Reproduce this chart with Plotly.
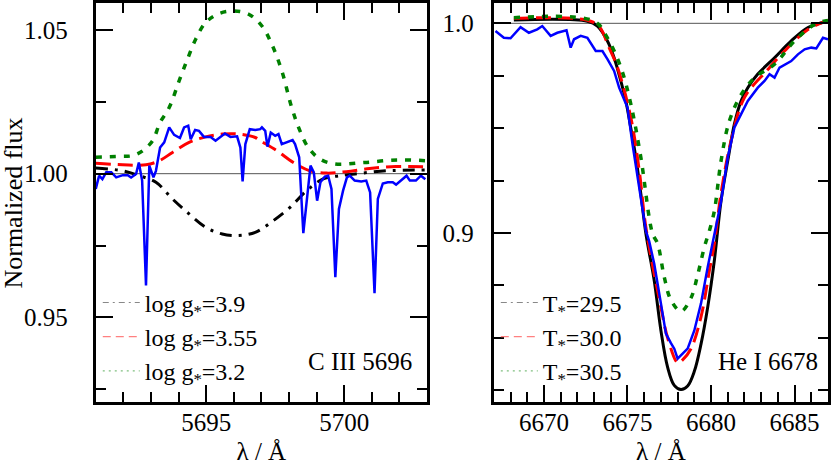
import plotly.graph_objects as go
from plotly.subplots import make_subplots

# C III 5696 panel (left)
c3_obs_wl = [5691.00, 5691.12, 5691.24, 5691.38, 5691.56, 5691.74, 5691.98, 5692.16, 5692.28, 5692.46,
             5692.56, 5692.68, 5692.82, 5692.94, 5693.09, 5693.18, 5693.33, 5693.48, 5693.66, 5693.84,
             5694.05, 5694.20, 5694.35, 5694.44, 5694.60, 5694.74, 5694.92, 5695.16, 5695.34, 5695.52,
             5695.68, 5695.88, 5696.12, 5696.24, 5696.32, 5696.42, 5696.58, 5696.78, 5696.96, 5697.02,
             5697.14, 5697.22, 5697.34, 5697.50, 5697.62, 5697.74, 5697.92, 5698.13, 5698.22, 5698.37,
             5698.52, 5698.66, 5698.78, 5698.90, 5699.02, 5699.14, 5699.30, 5699.42, 5699.54, 5699.68,
             5699.81, 5699.96, 5700.10, 5700.20, 5700.38, 5700.62, 5700.80, 5700.94, 5701.10, 5701.22,
             5701.40, 5701.58, 5701.76, 5701.88, 5702.09, 5702.26, 5702.38, 5702.60, 5702.78, 5702.94]
c3_obs_flux = [0.9947, 0.9993, 0.9981, 1.0005, 1.0005, 0.9987, 0.9995, 0.9995, 0.9987, 0.9999,
               1.0039, 0.9976, 0.9611, 1.0028, 0.9987, 1.0010, 1.0091, 1.0109, 1.0161, 1.0135,
               1.0124, 1.0161, 1.0167, 1.0120, 1.0152, 1.0149, 1.0128, 1.0128, 1.0115, 1.0128,
               1.0140, 1.0128, 1.0130, 1.0091, 0.9973, 1.0103, 1.0155, 1.0152, 1.0155, 1.0161,
               1.0149, 1.0094, 1.0143, 1.0132, 1.0138, 1.0103, 1.0109, 1.0117, 1.0103, 1.0057,
               0.9793, 0.9918, 1.0028, 1.0005, 0.9906, 0.9970, 0.9990, 0.9993, 0.9947, 0.9640,
               0.9877, 0.9941, 0.9987, 0.9993, 0.9976, 0.9973, 0.9976, 0.9935, 0.9584, 0.9912,
               0.9966, 0.9970, 0.9970, 0.9962, 0.9980, 0.9993, 0.9976, 0.9976, 0.9993, 0.9981]

c3_g39_wl = [5691.0, 5691.98, 5692.58, 5693.18, 5693.78, 5694.38, 5694.98, 5695.58, 5696.18,
             5696.78, 5697.44, 5698.04, 5698.64, 5699.24, 5699.84, 5700.56, 5701.52, 5703.0]
c3_g39_flux = [1.0020, 1.0010, 0.9993, 0.9970, 0.9912, 0.9860, 0.9814, 0.9790, 0.9785,
               0.9796, 0.9837, 0.9883, 0.9941, 0.9982, 0.9993, 1.0001, 1.0010, 1.0013]

c3_g355_wl = [5691.0, 5691.98, 5692.82, 5693.3, 5693.78, 5694.38, 5694.98, 5695.58, 5696.18, 5696.78,
              5696.96, 5697.56, 5698.16, 5698.76, 5699.36, 5700.08, 5700.92, 5701.88, 5703.0]
c3_g355_flux = [1.0036, 1.0031, 1.0031, 1.0045, 1.0074, 1.0109, 1.0128, 1.0138, 1.0138, 1.0126,
                1.0115, 1.0080, 1.0039, 1.0010, 1.0002, 1.0007, 1.0018, 1.0025, 1.0024]

c3_g32_wl = [5691.0, 5691.86, 5692.34, 5692.7, 5693.06, 5693.33, 5693.66, 5694.02, 5694.32, 5694.62,
             5694.98, 5695.46, 5696.0, 5696.54, 5697.02, 5697.38, 5697.74, 5698.1, 5698.4, 5698.7,
             5699.12, 5699.66, 5700.74, 5701.94, 5703.0]
c3_g32_flux = [1.0057, 1.0060, 1.0063, 1.0080, 1.0115, 1.0178, 1.0230, 1.0323, 1.0398, 1.0468,
               1.0526, 1.0557, 1.0566, 1.0555, 1.0514, 1.0450, 1.0358, 1.0230, 1.0149, 1.0091,
               1.0051, 1.0034, 1.0039, 1.0048, 1.0045]

# He I 6678 panel (right)
he_obs_wl = [6667.1, 6667.6, 6668.0, 6668.6, 6669.1, 6669.6, 6669.9, 6670.4, 6670.8, 6671.35,
             6671.6, 6671.8, 6672.2, 6672.6, 6673.1, 6673.5, 6673.8, 6674.2, 6674.5, 6674.7,
             6675.0, 6675.3, 6675.7, 6676.1, 6676.3, 6676.6, 6677.0, 6677.3, 6677.6, 6677.8,
             6678.0, 6678.2, 6678.6, 6679.0, 6679.4, 6679.8, 6680.2, 6680.6, 6681.0, 6681.4,
             6681.8, 6682.2, 6682.8, 6683.2, 6683.5, 6683.8, 6684.1, 6684.5, 6684.8, 6685.2,
             6685.6, 6686.0, 6686.3, 6686.7, 6687.0]
he_obs_flux = [0.9963, 0.9931, 0.9929, 0.9982, 0.9955, 0.9971, 0.9987, 0.9940, 0.9955, 0.9967,
               0.9884, 0.9924, 0.9940, 0.9931, 0.9868, 0.9868, 0.9829, 0.9773, 0.9693, 0.9654,
               0.9598, 0.9424, 0.9217, 0.9011, 0.8960, 0.8853, 0.8664, 0.8520, 0.8475, 0.8448,
               0.8400, 0.8416, 0.8448, 0.8535, 0.8664, 0.8837, 0.9000, 0.9150, 0.9360, 0.9503,
               0.9567, 0.9630, 0.9693, 0.9725, 0.9757, 0.9741, 0.9789, 0.9805, 0.9820, 0.9852,
               0.9876, 0.9884, 0.9880, 0.9931, 0.9924]

he_t295_wl = [6668.2, 6672.6, 6673.2, 6673.8, 6674.2, 6674.6, 6674.9, 6675.2, 6675.5, 6675.8,
              6676.1, 6676.6, 6677.0, 6677.4, 6677.8, 6678.2, 6678.6, 6679.0, 6679.4, 6679.8,
              6680.2, 6680.6, 6681.0, 6681.4, 6681.8, 6682.2, 6682.8, 6683.8, 6684.8, 6685.8, 6687.0]
he_t295_flux = [1.0016, 1.0010, 0.9987, 0.9916, 0.9836, 0.9725, 0.9630, 0.9500, 0.9360, 0.9186,
                0.8997, 0.8773, 0.8535, 0.8360, 0.8273, 0.8253, 0.8270, 0.8340, 0.8470, 0.8646,
                0.8870, 0.9154, 0.9344, 0.9520, 0.9630, 0.9693, 0.9758, 0.9836, 0.9916, 0.9980, 1.0010]

he_t300_wl = [6668.2, 6672.6, 6673.3, 6673.9, 6674.4, 6675.2, 6675.7, 6676.1, 6677.0, 6677.4,
              6678.0, 6678.2, 6678.8, 6679.4, 6679.9, 6680.2, 6680.6, 6681.2, 6682.0, 6683.4,
              6684.4, 6685.8, 6687.0]
he_t300_flux = [1.0024, 1.0015, 0.9985, 0.9884, 0.9790, 0.9550, 0.9300, 0.9027, 0.8646, 0.8500,
                0.8380, 0.8387, 0.8448, 0.8600, 0.8820, 0.8950, 0.9190, 0.9440, 0.9646, 0.9780,
                0.9868, 0.9970, 1.0014]

he_t305_wl = [6668.2, 6673.0, 6673.8, 6674.6, 6675.2, 6675.8, 6676.5, 6676.8, 6677.2, 6677.6,
              6678.2, 6678.8, 6679.2, 6679.6, 6679.9, 6680.2, 6680.6, 6681.1, 6681.8, 6682.6,
              6683.8, 6685.0, 6686.2, 6687.0]
he_t305_flux = [1.0027, 1.0010, 0.9930, 0.9790, 0.9615, 0.9360, 0.8997, 0.8950, 0.8790, 0.8680,
                0.8626, 0.8690, 0.8800, 0.8932, 0.9010, 0.9106, 0.9344, 0.9535, 0.9660, 0.9740,
                0.9805, 0.9916, 0.9995, 1.0014]

continuum = 1.0

# Plot:
font_family = "Liberation Serif"
fs = 25

fig = make_subplots(rows = 1, cols = 2)

def add_model(x, y, color, dash, width, col, name, legend, leg_color, leg_dash):
    fig.add_trace(go.Scatter(x = x, y = y, mode = "lines", line_shape = "spline",
                             line = dict(color = color, dash = dash, width = width),
                             showlegend = False, hoverinfo = "skip"), row = 1, col = col)
    # pale legend sample
    fig.add_trace(go.Scatter(x = [None], y = [None], mode = "lines", name = name, legend = legend,
                             line = dict(color = leg_color, dash = leg_dash, width = 1.2)),
                  row = 1, col = col)

add_model(c3_g39_wl, c3_g39_flux, "black", "12px,7px,3px,7px", 3, 1,
          "log g<sub>*</sub>=3.9", "legend", "#888888", "6px,4px,2px,4px")
add_model(c3_g355_wl, c3_g355_flux, "#ff0000", "15px,7px", 3, 1,
          "log g<sub>*</sub>=3.55", "legend", "#ff8080", "8px,5px")
add_model(c3_g32_wl, c3_g32_flux, "#008000", "6px,8px", 3.5, 1,
          "log g<sub>*</sub>=3.2", "legend", "#80c080", "2px,4px")
fig.add_trace(go.Scatter(x = c3_obs_wl, y = c3_obs_flux, mode = "lines",
                         line = dict(color = "#0000ff", width = 2.5), showlegend = False),
              row = 1, col = 1)

add_model(he_t295_wl, he_t295_flux, "black", "solid", 3, 2,
          "T<sub>*</sub>=29.5", "legend2", "#888888", "6px,4px,2px,4px")
add_model(he_t300_wl, he_t300_flux, "#ff0000", "15px,7px", 3, 2,
          "T<sub>*</sub>=30.0", "legend2", "#ff8080", "8px,5px")
add_model(he_t305_wl, he_t305_flux, "#008000", "6px,8px", 3.5, 2,
          "T<sub>*</sub>=30.5", "legend2", "#80c080", "2px,4px")
fig.add_trace(go.Scatter(x = he_obs_wl, y = he_obs_flux, mode = "lines",
                         line = dict(color = "#0000ff", width = 2.5), showlegend = False),
              row = 1, col = 2)

for c in [1, 2]:
    fig.add_hline(y = continuum, line = dict(color = "#555555", width = 1), layer = "below",
                  row = 1, col = c)

W, H = 831, 470
ytop, ybot = 2, 402
axis_style = dict(showline = True, linecolor = "black", linewidth = 3, mirror = "ticks",
                  ticks = "inside", ticklen = 17, tickwidth = 2, tickcolor = "black",
                  showgrid = False, zeroline = False,
                  tickfont = dict(family = font_family, size = fs, color = "black"))

fig.update_xaxes(**axis_style, dtick = 5, ticklabelstandoff = -4,
                 minor = dict(ticks = "inside", ticklen = 10, tickwidth = 2, dtick = 1, tickcolor = "black"),
                 title = dict(text = "λ / Å", font = dict(family = font_family, size = fs), standoff = 8))
fig.update_xaxes(range = [5691, 5703], tick0 = 5695, domain = [96 / W, 428 / W], row = 1, col = 1)
fig.update_xaxes(range = [6667, 6687], tick0 = 6670, domain = [495 / W, 830 / W], row = 1, col = 2)

fig.update_yaxes(**axis_style, domain = [1 - ybot / H, 1 - ytop / H])
fig.update_yaxes(range = [0.9205, 1.0594], tickvals = [0.95, 1.00, 1.05], tickformat = ".2f",
                 ticklabelstandoff = 20,
                 minor = dict(ticks = "inside", ticklen = 10, tickwidth = 2,
                              tickvals = [0.925, 0.975, 1.025], tickcolor = "black"),
                 row = 1, col = 1)
fig.update_yaxes(range = [0.8193, 1.0097], tickvals = [0.9, 1.0], tickformat = ".1f",
                 ticklabelstandoff = 12,
                 minor = dict(ticks = "inside", ticklen = 10, tickwidth = 2,
                              tickvals = [0.825, 0.85, 0.875, 0.925, 0.95, 0.975], tickcolor = "black"),
                 row = 1, col = 2)

fig.add_annotation(text = "Normalized flux", textangle = -90, xref = "paper", yref = "paper",
                   x = 14 / W, y = 1 - 202 / H, xanchor = "center", yanchor = "middle",
                   showarrow = False, font = dict(family = font_family, size = 26, color = "black"))
fig.add_annotation(text = "C III 5696", xref = "x domain", yref = "y domain", x = 0.962, y = 0.103,
                   xanchor = "right", yanchor = "middle", showarrow = False,
                   font = dict(family = font_family, size = fs, color = "black"))
fig.add_annotation(text = "He I 6678", xref = "x2 domain", yref = "y2 domain", x = 0.975, y = 0.101,
                   xanchor = "right", yanchor = "middle", showarrow = False,
                   font = dict(family = font_family, size = fs, color = "black"))

legend_style = dict(bgcolor = "rgba(0,0,0,0)", borderwidth = 0, xanchor = "left", yanchor = "top",
                    font = dict(family = font_family, size = 24, color = "black"),
                    itemwidth = 37, tracegroupgap = 0)
fig.update_layout(
    width = W, height = H,
    margin = dict(l = 0, r = 0, t = 0, b = 0),
    plot_bgcolor = "white", paper_bgcolor = "white",
    font = dict(family = font_family, size = fs, color = "black"),
    legend = dict(**legend_style, x = 98 / W, y = 1 - 280 / H),
    legend2 = dict(**legend_style, x = 497 / W, y = 1 - 280 / H),
)

# drop the browser's default page margin so the figure sits at (0, 0)
fig.write_html("out.html", config = {"displayModeBar": False},
               post_script = "document.body.style.margin = '0';")
